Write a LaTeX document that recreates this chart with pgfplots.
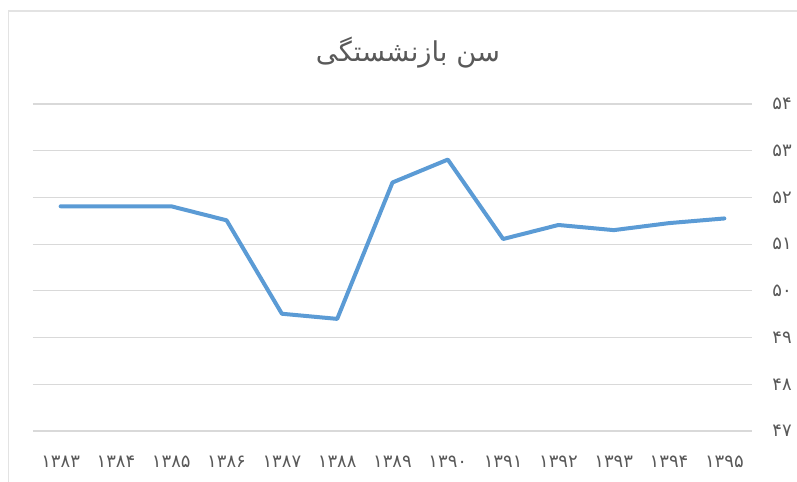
\documentclass[border=0pt]{standalone}
\usepackage{fontspec}
\usepackage{pgfplots}
\pgfplotsset{compat=1.18}
\TeXXeTstate=1
\newfontfamily\arabicfont[Script=Arabic]{DejaVu Sans}
\newfontfamily\digitfont{DejaVu Sans}
\definecolor{linec}{HTML}{5B9BD5}
\definecolor{gridc}{HTML}{D9D9D9}
\definecolor{textc}{HTML}{595959}
\definecolor{borderc}{HTML}{E3E3E3}
\begin{document}
\begin{tikzpicture}
\useasboundingbox (-24.75pt,-38.25pt) rectangle (573pt,323.25pt);
\draw[borderc, line width=1pt] (-18.4pt,-40pt) -- (-18.4pt,315pt) -- (575pt,315pt);
\begin{axis}[
  at={(0,0)}, anchor=south west,
  scale only axis, width=539.25pt, height=245.25pt,
  xmin=-0.5, xmax=12.5, ymin=47, ymax=54,
  xtick={0,...,12},
  xticklabels={۱۳۸۳,۱۳۸۴,۱۳۸۵,۱۳۸۶,۱۳۸۷,۱۳۸۸,۱۳۸۹,۱۳۹۰,۱۳۹۱,۱۳۹۲,۱۳۹۳,۱۳۹۴,۱۳۹۵},
  ytick={47,...,54},
  yticklabels={۴۷,۴۸,۴۹,۵۰,۵۱,۵۲,۵۳,۵۴},
  yticklabel pos=right,
  ymajorgrids, grid style={gridc, line width=0.8pt},
  axis line style={draw=none},
  tick style={draw=none},
  xticklabel style={font=\digitfont\fontsize{13.5}{15}\selectfont, text=textc, anchor=center, yshift=-23pt},
  yticklabel style={font=\digitfont\fontsize{13.5}{15}\selectfont, text=textc, anchor=center, xshift=22.5pt},
  clip=false,
]
\addplot[linec, line width=3pt, line join=round, line cap=round] coordinates {
(0,51.81) (1,51.81) (2,51.81) (3,51.51) (4,49.51) (5,49.40) (6,52.32)
(7,52.81) (8,51.11) (9,51.41) (10,51.30) (11,51.45) (12,51.55)
};
\end{axis}
\node[font=\arabicfont\fontsize{20.5}{23}\selectfont, text=textc] at (281.25pt,283.5pt) {\beginR سن بازنشستگی\endR};
\end{tikzpicture}
\end{document}
